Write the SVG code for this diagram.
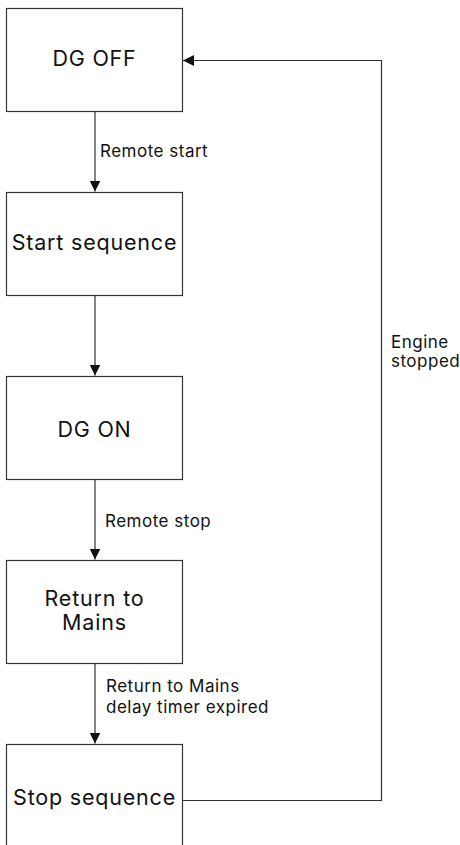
<svg xmlns="http://www.w3.org/2000/svg" width="460" height="845" viewBox="0 0 460 845">
<style>
.box{fill:#fff;stroke:#333;stroke-width:1.2}
.nt{font-family:Inter,"Noto Sans","Liberation Sans",sans-serif;font-size:21.5px;letter-spacing:0.8px;fill:#111;text-anchor:middle}
.lt{font-family:Inter,"Noto Sans","Liberation Sans",sans-serif;font-size:17px;letter-spacing:0.5px;fill:#111}
.edge{fill:none;stroke:#333;stroke-width:1.2}
</style>
<defs>
<marker id="arr" markerUnits="userSpaceOnUse" markerWidth="12" markerHeight="12" viewBox="0 0 12 12" refX="11" refY="6" orient="auto">
<path d="M0,0.5 L11,6 L0,11.5 Z" fill="#111"/>
</marker>
</defs>
<rect width="460" height="845" fill="#fff"/>
<g id="connectors">
<path class="edge" d="M95,111.5 V191.5" marker-end="url(#arr)"/>
<path class="edge" d="M95,295.5 V375.5" marker-end="url(#arr)"/>
<path class="edge" d="M95,479.5 V559.5" marker-end="url(#arr)"/>
<path class="edge" d="M95,663.5 V743.5" marker-end="url(#arr)"/>
<path class="edge" d="M182.5,800.5 H381.5 V60.5 H183" marker-end="url(#arr)"/>
<text class="lt" x="100" y="157">Remote start</text>
<text class="lt" x="105" y="527">Remote stop</text>
<text class="lt" x="106" y="692">Return to Mains</text>
<text class="lt" x="106" y="713">delay timer expired</text>
<text class="lt" x="391" y="347.5">Engine</text>
<text class="lt" x="391" y="367">stopped</text>
</g>
<g id="dg-off">
<rect class="box" x="6.5" y="8.5" width="176" height="103"/>
<text class="nt" x="94.5" y="66">DG OFF</text>
</g>
<g id="start-sequence">
<rect class="box" x="6.5" y="192.5" width="176" height="103"/>
<text class="nt" x="94.5" y="250">Start sequence</text>
</g>
<g id="dg-on">
<rect class="box" x="6.5" y="376.5" width="176" height="103"/>
<text class="nt" x="94.5" y="437">DG ON</text>
</g>
<g id="return-to-mains">
<rect class="box" x="6.5" y="560.5" width="176" height="103"/>
<text class="nt" x="94.5" y="606">Return to</text>
<text class="nt" x="94.5" y="629.5">Mains</text>
</g>
<g id="stop-sequence">
<rect class="box" x="6.5" y="744.5" width="176" height="112"/>
<text class="nt" x="94.5" y="805">Stop sequence</text>
</g>
</svg>
